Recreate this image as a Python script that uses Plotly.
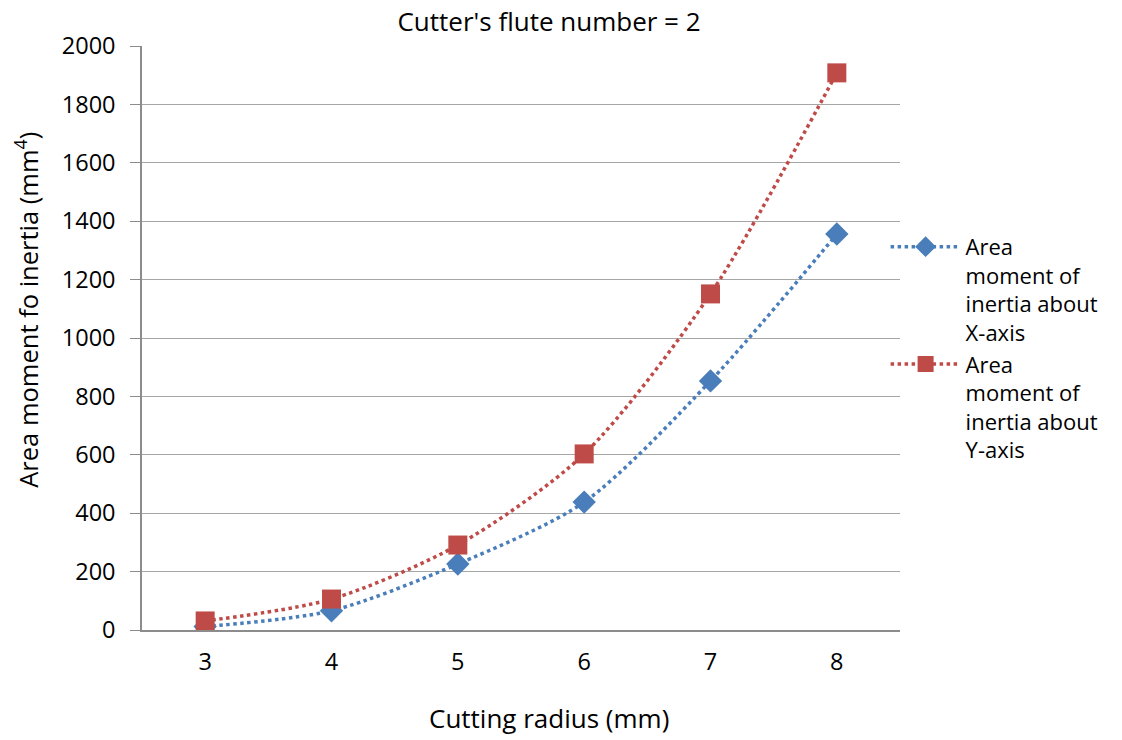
import plotly.graph_objects as go

radius = ["3", "4", "5", "6", "7", "8"]
inertia_x = [12, 66, 226, 438, 853, 1356]
inertia_y = [31, 106, 291, 603, 1151, 1908]
name_x = "Area<br>moment of<br>inertia about<br>X-axis"
name_y = "Area<br>moment of<br>inertia about<br>Y-axis"

FONT = "'Open Sans', Lato, sans-serif"
BLUE = "#4A7EBB"
RED = "#BE4B48"

fig = go.Figure()
fig.add_trace(go.Scatter(
    x=radius, y=inertia_x, name=name_x, mode="lines+markers",
    line=dict(color=BLUE, width=3.5, dash="dot", shape="spline", smoothing=0.8),
    marker=dict(symbol="diamond", size=18, color=BLUE),
))
fig.add_trace(go.Scatter(
    x=radius, y=inertia_y, name=name_y, mode="lines+markers",
    line=dict(color=RED, width=3.5, dash="dot", shape="spline", smoothing=0.8),
    marker=dict(symbol="square", size=19, color=RED),
))

fig.update_layout(
    width=1122, height=740,
    margin=dict(l=142, r=222, t=46, b=110),
    paper_bgcolor="white", plot_bgcolor="white",
    font=dict(family=FONT, size=22, color="#000000"),
    title=dict(text="Cutter's flute number = 2", x=0.537, xanchor="center",
               xref="paper", y=0.970, yanchor="middle",
               font=dict(size=26, family=FONT)),
    xaxis=dict(
        type="category", range=[-0.5, 5.5], automargin=False,
        showline=True, linecolor="#8C8C8C", linewidth=1.5,
        showgrid=False, ticks="",
        tickfont=dict(size=23.5), ticklabelstandoff=10,
    ),
    yaxis=dict(
        range=[0, 2000], dtick=200, automargin=False,
        showline=True, linecolor="#8C8C8C", linewidth=1.5,
        showgrid=True, gridcolor="#A6A6A6", gridwidth=1.3,
        ticks="outside", ticklen=10, tickcolor="#8C8C8C",
        zeroline=False,
        tickfont=dict(size=23.5), ticklabelstandoff=10,
    ),
    legend=dict(
        x=0.981, xanchor="left", xref="paper", y=0.692, yanchor="top",
        font=dict(size=22, family=FONT), bgcolor="rgba(0,0,0,0)",
        valign="top", itemwidth=70, tracegroupgap=0,
    ),
    showlegend=True,
    annotations=[
        dict(text="Cutting radius (mm)", xref="paper", yref="paper",
             x=0.537, y=-0.1507, xanchor="center", yanchor="middle",
             showarrow=False, font=dict(size=26, family=FONT)),
        dict(text="Area moment fo inertia (mm<sup>4</sup>)", xref="paper", yref="paper",
             x=-0.152, y=0.548, xanchor="center", yanchor="middle", textangle=-90,
             showarrow=False, font=dict(size=25.5, family=FONT)),
    ],
)

fig.write_html("out.html")
